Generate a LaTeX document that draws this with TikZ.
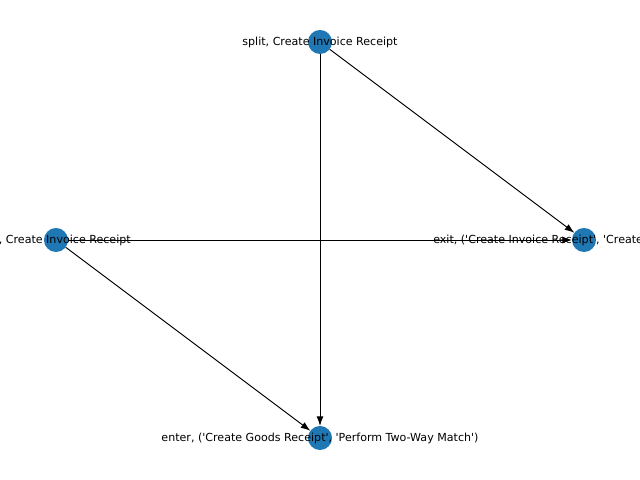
\documentclass[tikz,border=0pt]{standalone}
\usepackage{fontspec}
\newfontfamily\lblfont{DejaVu Sans}
\usetikzlibrary{arrows.meta,positioning}
\definecolor{nodeblue}{HTML}{1F77B4}

\begin{document}
\begin{tikzpicture}[x=0.01in,y=-0.01in]

\tikzset{
	state/.style={
		circle,
		fill=nodeblue,
		minimum size=0.24in,
		inner sep=0pt,
		outer sep=0pt},
	lbl/.style={
		font=\lblfont\fontsize{8}{9}\selectfont,
		inner sep=0pt},
	arrout/.style={
		-{Latex[length=7pt,width=5pt]},
		line width=0.7pt}
}

\useasboundingbox (0,0) rectangle (640,480);

\node[state] (split) at (320,42) {};
\node[state] (mid) at (56,240) {};
\node[state] (exit) at (584,240) {};
\node[state] (enter) at (320,438) {};

\draw[arrout] (split) -- (exit);
\draw[arrout] (split) -- (enter);
\draw[arrout] (mid) -- (exit);
\draw[arrout] (mid) -- (enter);

\node[lbl] (splitlbl) at (split) {split, Create Invoice Receipt};
\node[lbl,anchor=east] (midlbl) at (131,240) {, Create Invoice Receipt};
\node[lbl,anchor=west] (exitlbl) at (433,240) {exit, ('Create Invoice Receipt', 'Create};
\node[lbl] (enterlbl) at (enter) {enter, ('Create Goods Receipt', 'Perform Two-Way Match')};
\end{tikzpicture}
\end{document}
